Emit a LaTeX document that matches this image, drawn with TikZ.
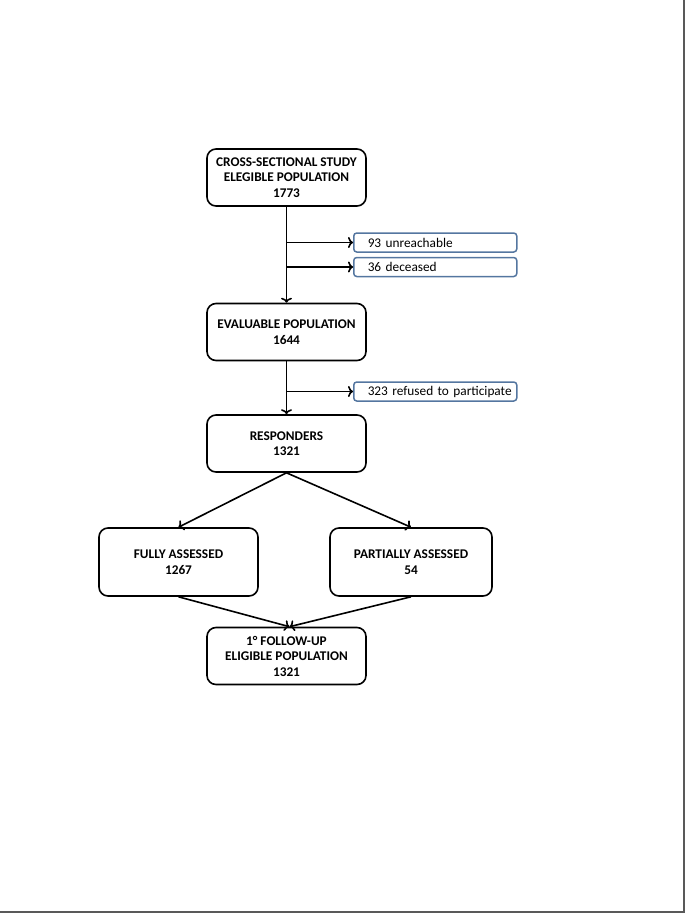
\documentclass[tikz,border=0pt]{standalone}
\usepackage{fontspec}
\setmainfont{Carlito}
\usetikzlibrary{positioning,arrows.meta}
\definecolor{sidecol}{RGB}{84,118,160}

\begin{document}
\begin{tikzpicture}[
  x=1pt, y=-1pt,
  every node/.style={font=\fontsize{13.3}{15.5}\selectfont},
  box/.style={rectangle, rounded corners=9pt, draw=black, line width=1.6pt, minimum width=159pt, minimum height=57pt, align=center, font=\fontsize{13.3}{15.5}\selectfont\bfseries},
  side/.style={rectangle, rounded corners=3pt, draw=sidecol, line width=1.5pt, text width=158pt, inner xsep=2.5pt, inner ysep=1pt, minimum height=19pt, align=left, anchor=west, execute at begin node=\hspace*{11.5pt}},
  ar/.style={-{To[length=5pt,width=11pt]}, line width=1.6pt}
]
  \useasboundingbox (0,0) rectangle (685,913);
  % page edge
  \draw[gray!70!black, line width=1.4pt] (684,0) -- (684,912) -- (0,912);

  \node[box] (cross) at (286.5,177.5) {CROSS-SECTIONAL STUDY\\ELEGIBLE POPULATION\\1773};
  \node[box] (eval) at (286.5,332) {EVALUABLE POPULATION\\1644};
  \node[box] (resp) at (286.5,443.5) {RESPONDERS\\1321};
  \node[box, minimum height=68pt] (full) at (178.5,562) {FULLY ASSESSED\\1267};
  \node[box, minimum width=162pt, minimum height=68pt] (part) at (411,562) {PARTIALLY ASSESSED\\54};
  \node[box] (follow) at (286.5,656) {1° FOLLOW-UP\\ELIGIBLE POPULATION\\1321};

  \node[side] (unreach) at (353,242.5) {93 unreachable};
  \node[side] (dead) at (353,267) {36 deceased};
  \node[side] (refused) at (353,391.5) {323 refused to participate};

  \draw[ar] (cross) -- (eval);
  \draw[ar] (eval) -- (resp);
  \draw[ar] (cross.south |- unreach.west) -- (unreach);
  \draw[ar] (cross.south |- dead.west) -- (dead);
  \draw[ar] (eval.south |- refused.west) -- (refused);
  \draw[ar] (resp.south) -- (full.north);
  \draw[ar] (resp.south) -- (part.north);
  \draw[ar] (full.south) -- ([xshift=3pt]follow.north);
  \draw[ar] (part.south) -- ([xshift=3pt]follow.north);
\end{tikzpicture}
\end{document}
